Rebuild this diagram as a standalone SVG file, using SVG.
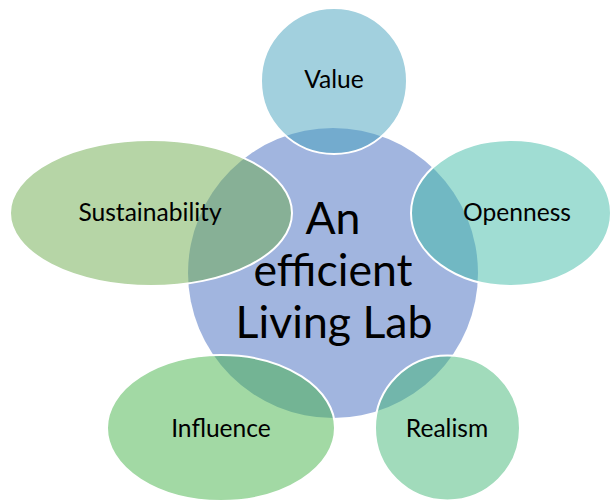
<svg xmlns="http://www.w3.org/2000/svg" width="611" height="501" viewBox="0 0 611 501">
  <style>
    .outer { fill-opacity: 0.5; stroke: #ffffff; stroke-width: 2; }
    .lbl { font-family: Lato, "Open Sans", "Liberation Sans", sans-serif; font-size: 24.6px; fill: #000000; text-anchor: middle; }
    .ctr { font-family: Lato, "Open Sans", "Liberation Sans", sans-serif; font-size: 44.6px; fill: #000000; text-anchor: middle; }
  </style>
  <rect width="611" height="501" fill="#ffffff"/>
  <g id="center">
    <circle cx="333" cy="273" r="145" fill="#a1b5df"/>
  </g>
  <g id="connectors"/>
  <g id="value">
    <circle class="outer" cx="334" cy="81" r="73" fill="#45a1bd"/>
    <text class="lbl" x="334" y="88">Value</text>
  </g>
  <g id="sustainability">
    <ellipse class="outer" cx="151" cy="213" rx="141" ry="73" fill="#6dab4d"/>
    <text class="lbl" x="150" y="221">Sustainability</text>
  </g>
  <g id="openness">
    <ellipse class="outer" cx="511" cy="213" rx="100" ry="73" fill="#41bba7"/>
    <text class="lbl" x="517" y="221">Openness</text>
  </g>
  <g id="influence">
    <ellipse class="outer" cx="221" cy="428" rx="114" ry="73" fill="#45b349"/>
    <text class="lbl" x="221" y="437">Influence</text>
  </g>
  <g id="realism">
    <circle class="outer" cx="447.5" cy="428" r="72.5" fill="#43b777"/>
    <text class="lbl" x="447" y="437">Realism</text>
  </g>
  <g id="center-label">
    <text class="ctr" x="333" y="234">An</text>
    <text class="ctr" x="333" y="286">efficient</text>
    <text class="ctr" x="334" y="338">Living Lab</text>
  </g>
</svg>
